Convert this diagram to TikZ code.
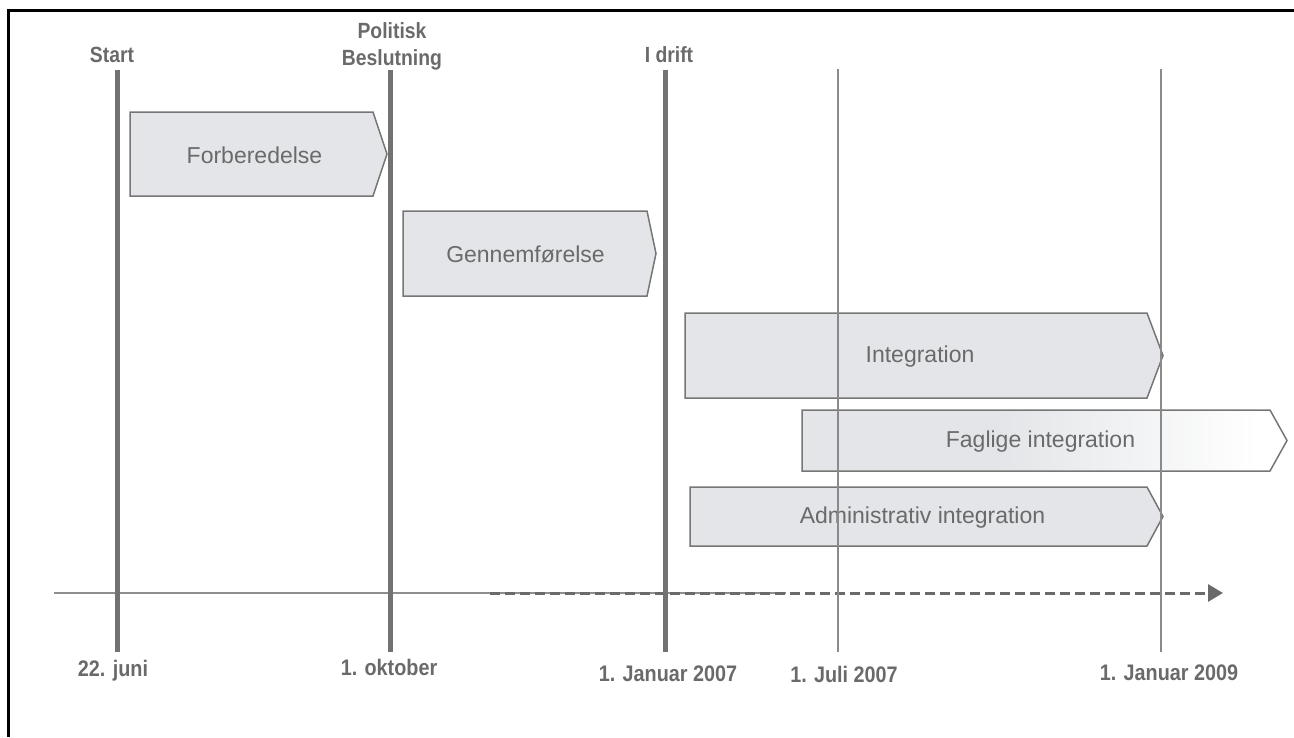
\documentclass[tikz,border=0pt]{standalone}
\usepackage{fontspec}
\setmainfont{Liberation Sans}
\newfontfamily\narrowsans[FakeStretch=0.88]{Liberation Sans}
\usetikzlibrary{arrows.meta}

\definecolor{ink}{HTML}{6A6A6A}
\definecolor{bar}{HTML}{727272}
\definecolor{thinbar}{HTML}{8A8A8A}
\definecolor{boxfill}{HTML}{E3E5E8}
\definecolor{boxline}{HTML}{767676}
\definecolor{axisline}{HTML}{8E8E8E}

% light grey that fades to white towards the arrow tip
\pgfdeclarehorizontalshading{fadeout}{100bp}{color(0bp)=(boxfill); color(45bp)=(boxfill); color(72bp)=(white); color(100bp)=(white)}

% phase arrow: style, name, left, top, flat end, tip, bottom, label
\newcommand\phasebox[8]{%
  \path[phase,#1] (#3,#4) -- (#5,#4) -- (#6,{(#4+#7)/2}) -- (#5,#7) -- (#3,#7) -- cycle;
  \node[phasetext] (#2) at ({(#3+#6)/2-4},{(#4+#7)/2+1}) {#8};
}

\tikzset{
  phase/.style={draw=boxline, line width=1.5pt, fill=boxfill, line join=miter},
  phasetext/.style={text=ink, font=\fontsize{23}{26}\selectfont, inner sep=0pt},
  milestone/.style={draw=bar, line width=5pt},
  gridline/.style={draw=thinbar, line width=1.3pt},
  datelabel/.style={text=ink, font=\narrowsans\fontsize{22.5}{26}\selectfont\bfseries, inner sep=0pt},
  toplabel/.style={text=ink, font=\narrowsans\fontsize{22}{27}\selectfont\bfseries, inner sep=0pt, align=center},
  frameline/.style={draw=black, line width=3pt},
}

\begin{document}
\begin{tikzpicture}[x=1pt, y=-1pt]
\useasboundingbox (0,0) rectangle (1294,737);

% frame
\coordinate (fTL) at (8,10);
\coordinate (fTR) at (1294,10);
\coordinate (fBL) at (8,737);
\draw[frameline] (fTR) -- (fTL) -- (fBL);

% time axis
\coordinate (axA) at (54,593);
\coordinate (axB) at (786,593);
\coordinate (axC) at (490,593);
\coordinate (axD) at (1223,593);
\draw[draw=axisline, line width=2pt] (axA) -- (axB);
\draw[draw=ink, line width=3pt, dash pattern=on 10pt off 5pt,
      -{Triangle[length=15pt, width=17pt]}] (axC) -- (axD);

% phases
\phasebox{}{forb}{130}{112}{373}{387}{196}{Forberedelse}
\phasebox{}{genn}{403}{211}{647}{656}{296}{Gennemførelse}
\phasebox{}{integ}{685}{313}{1147}{1163}{398}{Integration}
\phasebox{shade, shading=fadeout}{fag}{802}{410}{1270}{1287}{471}{Faglige integration}
\phasebox{}{adm}{690}{487}{1147}{1163}{546}{Administrativ integration}

% milestones
\coordinate (m1t) at (117,70);  \coordinate (m1b) at (117,652);
\coordinate (m2t) at (390,70);  \coordinate (m2b) at (390,652);
\coordinate (m3t) at (665,70);  \coordinate (m3b) at (665,652);
\draw[milestone] (m1t) -- (m1b);
\draw[milestone] (m2t) -- (m2b);
\draw[milestone] (m3t) -- (m3b);

\coordinate (g1t) at (838,69);  \coordinate (g1b) at (838,652);
\coordinate (g2t) at (1161,69); \coordinate (g2b) at (1161,652);
\draw[gridline] (g1t) -- (g1b);
\draw[gridline] (g2t) -- (g2b);

% labels above
\node[toplabel] (lstart) at (112,55) {Start};
\node[toplabel] (lpol) at (392,46) {Politisk\\Beslutning};
\node[toplabel] (ldrift) at (669,55) {I drift};

% dates below
\node[datelabel] (d1) at (113,671) {22. juni};
\node[datelabel] (d2) at (389,667) {1. oktober};
\node[datelabel] (d3) at (668,674) {1. Januar 2007};
\node[datelabel] (d4) at (844,674) {1. Juli 2007};
\node[datelabel] (d5) at (1169,673) {1. Januar 2009};
\end{tikzpicture}
\end{document}
